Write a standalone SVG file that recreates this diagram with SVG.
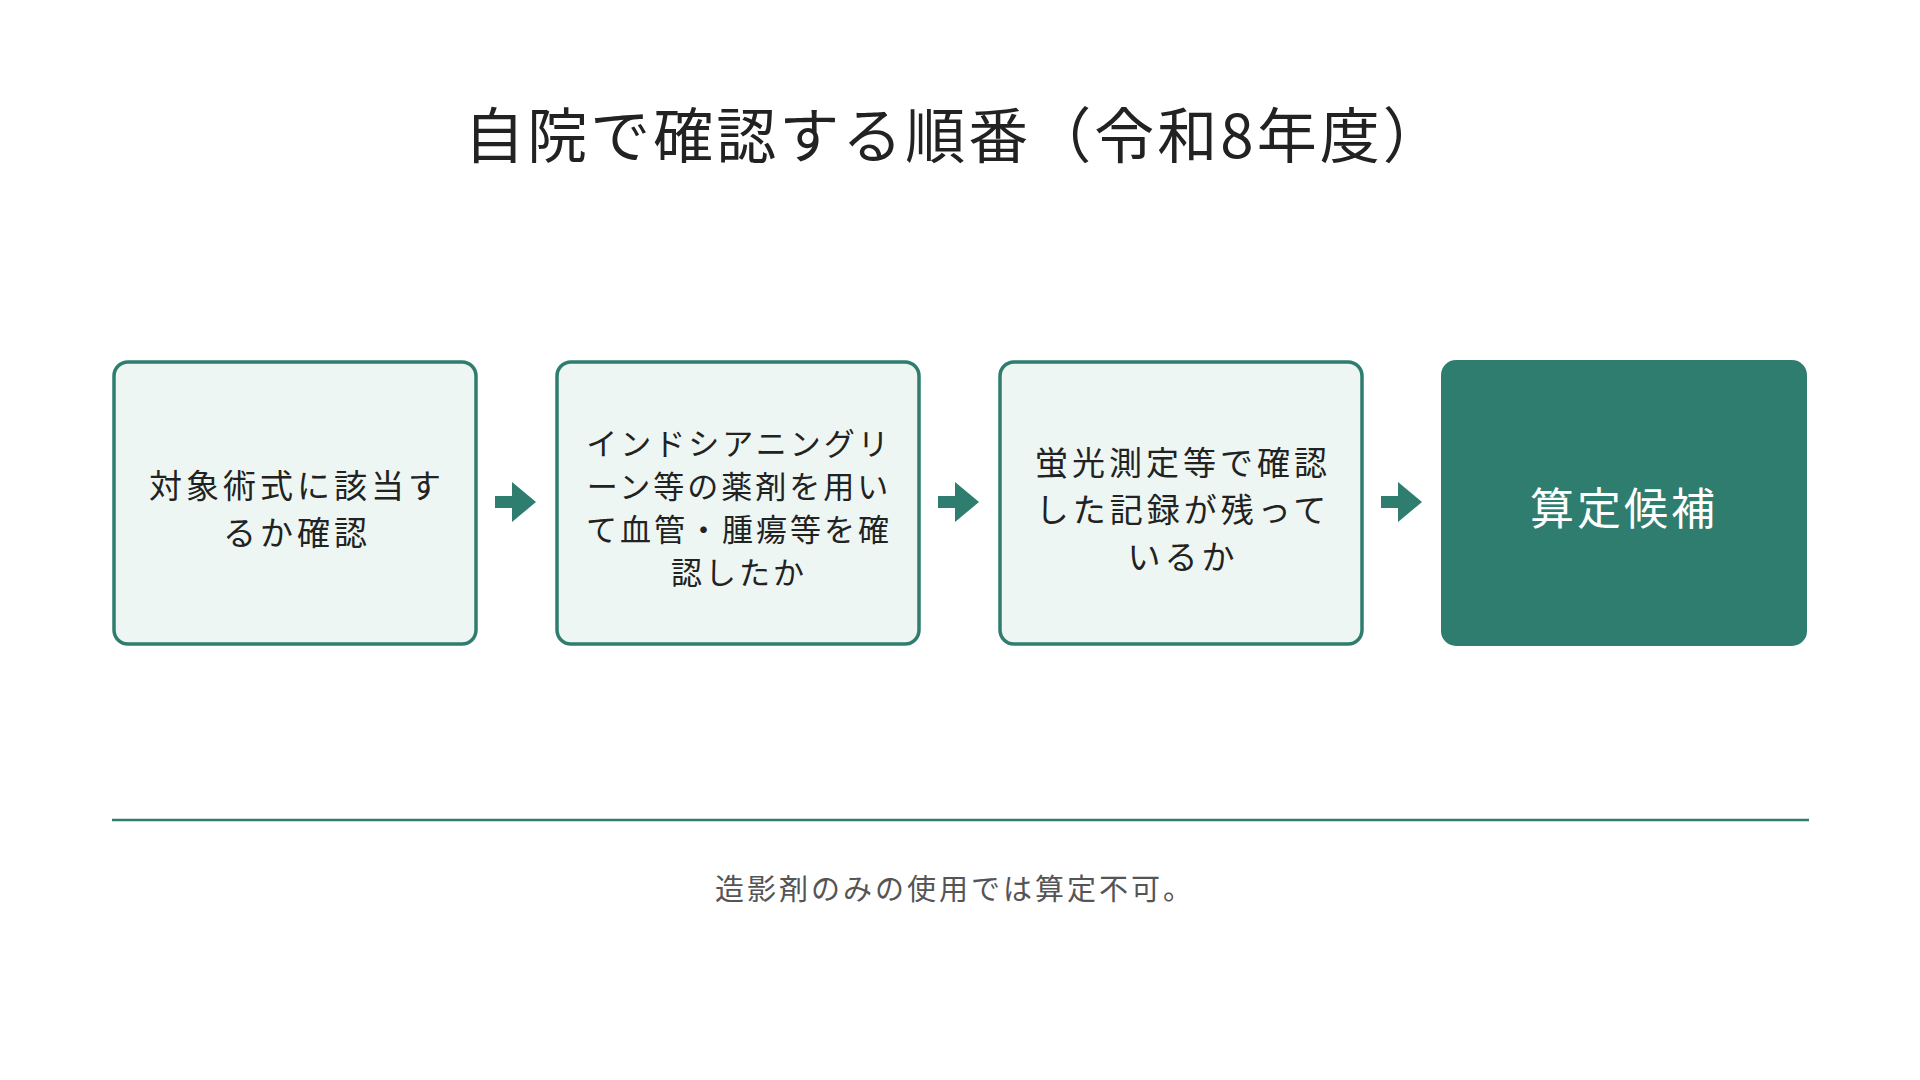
<svg xmlns="http://www.w3.org/2000/svg" width="1920" height="1080" viewBox="0 0 1920 1080">
<style>
.t{font-family:"Noto Sans CJK JP","Noto Sans",sans-serif}
.box{fill:#edf6f2;stroke:#2e7d6e;stroke-width:3.5}
.bt{font-size:33px;fill:#222;text-anchor:middle;letter-spacing:4px}
.b2{font-size:31px;letter-spacing:3px}
.ar{fill:#2e7d6e}
</style>
<rect width="1920" height="1080" fill="#fff"/>
<text class="t" x="955" y="158" font-size="60" fill="#222" text-anchor="middle" letter-spacing="3">自院で確認する順番（令和8年度）</text>
<g id="n1"><rect class="box" x="114" y="362" width="362" height="282" rx="14"/>
<text class="t bt" x="297" y="498">対象術式に該当す</text><text class="t bt" x="297" y="545">るか確認</text></g>
<g id="n2"><rect class="box" x="557" y="362" width="362" height="282" rx="14"/>
<text class="t bt b2" x="739" y="455">インドシアニングリ</text><text class="t bt b2" x="739" y="498">ーン等の薬剤を用い</text><text class="t bt b2" x="739" y="541">て血管・腫瘍等を確</text><text class="t bt b2" x="739" y="584">認したか</text></g>
<g id="n3"><rect class="box" x="1000" y="362" width="362" height="282" rx="14"/>
<text class="t bt" x="1183" y="475">蛍光測定等で確認</text><text class="t bt" x="1183" y="522">した記録が残って</text><text class="t bt" x="1183" y="569">いるか</text></g>
<g id="n4"><rect x="1441" y="360" width="366" height="286" rx="15" fill="#2e7d6e"/>
<text class="t" x="1624" y="525" font-size="44" fill="#fff" text-anchor="middle" letter-spacing="3">算定候補</text></g>
<g id="connectors">
<path class="ar" d="M495 496h17v-14l24 20-24 20v-14h-17z"/>
<path class="ar" d="M938 496h17v-14l24 20-24 20v-14h-17z"/>
<path class="ar" d="M1381 496h17v-14l24 20-24 20v-14h-17z"/>
</g>
<line x1="112" y1="820" x2="1809" y2="820" stroke="#2e7d6e" stroke-width="2.5"/>
<text class="t" x="955" y="900" font-size="29" fill="#555" text-anchor="middle" letter-spacing="3">造影剤のみの使用では算定不可。</text>
</svg>
